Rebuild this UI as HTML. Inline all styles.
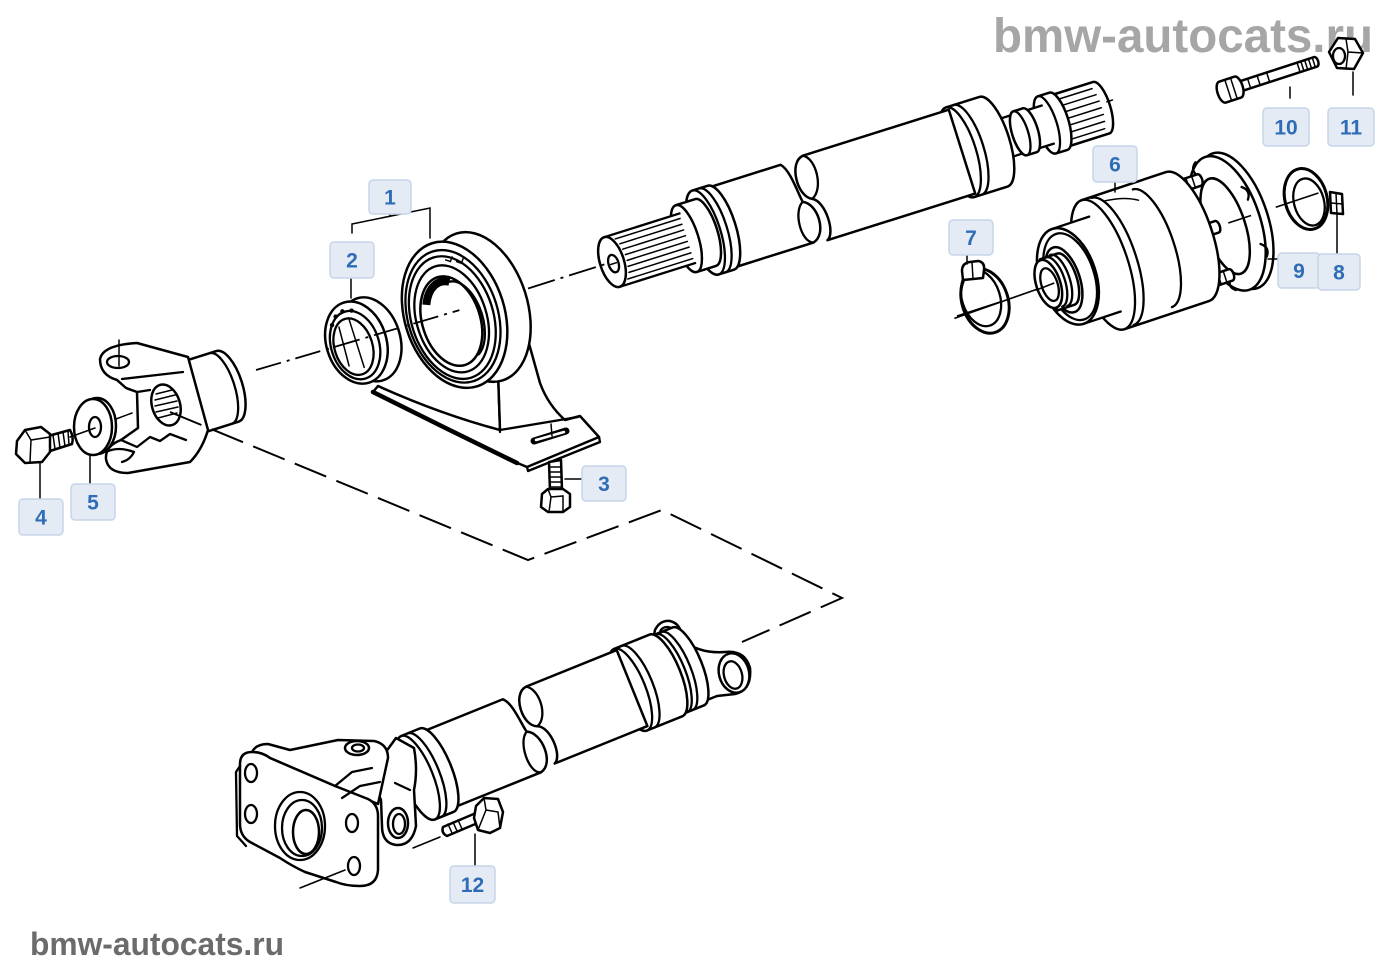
<!DOCTYPE html>
<html><head><meta charset="utf-8">
<style>
html,body{margin:0;padding:0;background:#fff;}
svg{display:block;}
.l{fill:#fff;stroke:#000;stroke-width:2.5;stroke-linejoin:round;stroke-linecap:round}
.n{fill:none;stroke:#000;stroke-width:2.3;stroke-linecap:round;stroke-linejoin:round}
.t{fill:none;stroke:#000;stroke-width:1.5;stroke-linecap:round}
.lbl rect{fill:#e4ebf4;stroke:#c6d5e8;stroke-width:1.5}
.lbl text{font-family:"Liberation Sans",Arial,sans-serif;font-weight:bold;font-size:21px;fill:#2e6db5;text-anchor:middle}
</style></head><body>
<svg width="1400" height="980" viewBox="0 0 1400 980" xmlns="http://www.w3.org/2000/svg">
<rect width="1400" height="980" fill="#fff"/>

<text x="993" y="52" font-family="Liberation Sans, Arial, sans-serif" font-weight="bold" font-size="48" fill="#a6a6a6" textLength="380" lengthAdjust="spacingAndGlyphs">bmw-autocats.ru</text>
<text x="30" y="955" font-family="Liberation Sans, Arial, sans-serif" font-weight="bold" font-size="32" fill="#6b6b6b" textLength="254" lengthAdjust="spacingAndGlyphs">bmw-autocats.ru</text>

<!-- ============ TOP SHAFT ============ -->
<g transform="translate(612,262) rotate(-17.5)">
  <path class="l" d="M466,-27 L513,-27 A9,27 0 0 1 513,27 L466,27 A9,27 0 0 1 466,-27Z"/>
  <path class="t" d="M470,-21H510M470,-14H512M470,-7H513M470,0H513M470,7H513M470,14H512M470,21H510"/>
  <path class="t" d="M520,-4 L526,-4"/>
  <path class="l" d="M456,-30 L468,-30 A10,30 0 0 1 468,30 L456,30 A10,30 0 0 1 456,-30Z"/>
  <path class="n" d="M456,-30 A10,30 0 0 1 456,30"/>
  <path d="M396,-20H457V20H396Z" fill="#fff"/>
  <path class="n" d="M396,-20H457M396,20H457"/>
  <path class="l" d="M428,-23H438A8,23 0 0 1 438,23H428A8,23 0 0 1 428,-23Z"/>
  <path class="n" d="M428,-23A8,23 0 0 1 428,23"/>
  <path class="l" d="M365,-47H400A16,47 0 0 1 400,47H365A16,47 0 0 1 365,-47Z"/>
  <path class="n" d="M365,-47A16,47 0 0 1 365,47M373,-47A16,47 0 0 1 373,47"/>
  <!-- main tube right section -->
  <path class="l" d="M214,-44H367V44H212 C222,40 222,6 210,0 C196,-6 198,-42 214,-44Z"/>
  <path class="n" d="M214,-44 C226,-38 224,-6 210,0"/>
  <!-- left tube section -->
  <path class="l" d="M112,-42H190 C198,-34 198,-8 200,0 C214,6 214,38 198,42 H112Z"/>
  <path class="n" d="M200,0 C188,6 186,38 198,42"/>
  <!-- ring -->
  <path class="l" d="M98,-44H114A15,44 0 0 1 114,44H98A15,44 0 0 1 98,-44Z"/>
  <path class="n" d="M98,-44A15,44 0 0 1 98,44M105,-44A15,44 0 0 1 105,44"/>
  <!-- step -->
  <path class="l" d="M78,-35H98A12,35 0 0 1 98,35H78A12,35 0 0 1 78,-35Z"/>
  <path class="n" d="M78,-35A12,35 0 0 1 78,35"/>
  <!-- splines -->
  <path d="M0,-26H80V26H0Z" fill="#fff"/>
  <path class="n" d="M0,-26H79M0,26H79"/>
  <path class="t" d="M10,-21H78M13,-15H78M14,-9H78M15,-3H78M15,3H78M14,9H78M13,15H78M10,21H78"/>
  <path class="n" d="M78,-35A12,35 0 0 1 78,35"/>
  <ellipse class="l" cx="0" cy="0" rx="12" ry="26"/>
  <ellipse class="n" cx="1" cy="2" rx="5" ry="9"/>
  <path class="t" d="M-2,2H4"/>
  <!-- axis to bearing -->
  <path d="M-88,0 L-8,0" stroke="#000" stroke-width="1.8" stroke-dasharray="28 6 3 6" fill="none"/>
</g>

<!-- ============ PILLAR / FOOT (center bearing) ============ -->
<path class="l" d="M470,360 L528,340 L540,383 Q548,405 565,420 L580,416 L599,437 L527,467 L515,462 Q445,428 373,392 L378,386 Q440,414 500,430 L498,372 Z"/>
<path class="n" d="M498,372 L500,432 M500,430 L578,417 M599,437 L600,442 L528,471 L527,467"/>
<path d="M373,392 Q445,428 517,463" fill="none" stroke="#000" stroke-width="4.5" stroke-linecap="round"/>
<path d="M534,441 L566,431" stroke="#000" stroke-width="7" stroke-linecap="round" fill="none"/>
<path d="M536,440 L564,432" stroke="#fff" stroke-width="2.5" stroke-linecap="round" fill="none"/>
<path class="t" d="M551,424 L552,436"/>

<!-- ============ CENTER BEARING + BEARING 2 ============ -->
<g transform="translate(612,262) rotate(-17.5)">
  <ellipse class="l" cx="-140" cy="3" rx="48" ry="77"/>
  <ellipse class="l" cx="-166" cy="3" rx="50" ry="75"/>
  <ellipse class="n" cx="-168" cy="4" rx="45" ry="68"/>
  <ellipse class="n" cx="-169" cy="5" rx="41" ry="63"/>
  <ellipse class="n" cx="-170" cy="6" rx="35" ry="55"/>
  <ellipse class="l" cx="-171" cy="8" rx="29" ry="46"/>
  <path class="n" d="M-163,-30 A22,40 0 0 1 -155,48"/>
  <path d="M-190,-15 A25,42 0 0 1 -161,-30" stroke="#000" stroke-width="8" fill="none"/>
  <path class="t" d="M-158,-52 l4,3 l3,-4 M-148,-47 l4,3 l3,-4"/>
  <!-- bearing 2 -->
  <ellipse class="l" cx="-254" cy="1" rx="30" ry="43"/>
  <ellipse class="l" cx="-268" cy="0" rx="30" ry="42"/>
  <ellipse class="n" cx="-270" cy="2" rx="24" ry="35"/>
  <ellipse class="n" cx="-272" cy="3" rx="19" ry="29"/>
  <circle cx="-286" cy="-24" r="2.2"/><circle cx="-280" cy="-31" r="2.2"/><circle cx="-272" cy="-34" r="2.2"/><circle cx="-263" cy="-32" r="2.2"/>
  <path class="t" d="M-280,-20 L-282,20 M-268,-26 L-268,26"/>
  <!-- axis -->
  <path d="M-372,-4 L-160,0" stroke="#000" stroke-width="1.8" stroke-dasharray="26 6 3 6" fill="none"/>
</g>
<path class="t" d="M352,233 V224 L430,208 V238 M390,214 V216"/>

<!-- bolt 3 -->
<path class="l" d="M549,462 L561,460 L562,490 L550,492 Z"/>
<path class="t" d="M549,467H561M549,472H561M549,477H562M550,482H562M550,487H562"/>
<path class="l" d="M542,494 L548,489 L563,489 L570,494 L570,507 L563,512 L548,512 L541,507 Z"/>
<path class="t" d="M548,489 L551,497 L549,512 M551,497 L563,496 L563,512"/>
<path class="t" d="M565,479 L583,479"/>

<!-- ============ YOKE (upper-left) ============ -->
<g transform="translate(216,390) rotate(-17.5)">
  <path class="l" d="M-30,-37 H12 A15,37 0 0 1 12,37 H-30 Z"/>
  <path class="n" d="M5,-37 A14,37 0 0 1 5,37"/>
</g>
<path class="l" d="M188,357 L137,343 Q103,345 100,359 Q100,375 117,380 L126,388 L137,392 L138,428 L121,440 Q105,446 106,459 Q108,473 128,473 L190,462 Q202,450 208,430 Z"/>
<path class="n" d="M122,379 L183,372"/>
<ellipse class="n" cx="118" cy="362" rx="11" ry="6"/>
<path class="t" d="M119,340 V366"/>
<path class="n" d="M121,440 L137,447 L150,437 L160,441 L170,434 L186,440"/>
<path class="n" d="M106,452 Q118,446 134,452 Q130,460 122,462"/>
<ellipse class="l" cx="166" cy="405" rx="14" ry="21" transform="rotate(-17 166 405)"/>
<path class="t" d="M156,394 L172,390 M155,400 L175,395 M155,406 L177,401 M156,412 L178,407 M158,418 L177,413"/>
<path class="n" d="M137,392 L150,390"/>

<!-- dashed connector -->
<path d="M170,412 L528,560 L662,510 L842,598 L742,642" fill="none" stroke="#000" stroke-width="2" stroke-dasharray="34 11"/>

<!-- bolt 4 -->
<path class="l" d="M48,436 L70,430 Q74,437 72,444 L50,451 Z"/>
<path class="t" d="M53,435 L55,449 M58,433 L60,448 M63,432 L65,446 M68,431 L69,445"/>
<path class="l" d="M17,441 L25,430 L41,427 L50,434 L50,452 L42,462 L25,463 L16,454 Z"/>
<path class="t" d="M25,430 L31,440 L50,437 M31,440 L30,462"/>
<path class="t" d="M40,463 V499"/>
<!-- washer 5 -->
<ellipse class="l" cx="97" cy="426" rx="19" ry="28"/>
<ellipse class="l" cx="93" cy="427" rx="19" ry="28"/>
<ellipse class="n" cx="95" cy="427" rx="6" ry="10"/>
<path class="t" d="M70,437 L95,428 M116,419 L132,413"/>
<path class="t" d="M90,455 V484"/>

<!-- ============ LOWER SHAFT ============ -->
<path class="l" d="M650,655 L655,630 Q660,620 670,621 Q682,624 682,640 Q700,654 725,652 Q745,650 750,668 Q752,690 735,694 L717,696 L662,718 Z"/>
<ellipse class="n" cx="667" cy="633" rx="7" ry="6"/>
<ellipse class="l" cx="734" cy="673" rx="15" ry="20" transform="rotate(-15 734 673)"/>
<ellipse class="n" cx="733" cy="675" rx="9" ry="14" transform="rotate(-15 733 675)"/>

<g transform="translate(457,762) rotate(-22)">
  <path class="l" d="M232,-44 H250 A14,42 0 0 1 250,40 H232 A14,42 0 0 1 232,-44Z"/>
  <path class="n" d="M232,-44 A14,42 0 0 1 232,40 M238,-44 A14,42 0 0 1 238,40"/>
  <path class="l" d="M188,-46 H226 A15,44 0 0 1 226,42 H188 A15,44 0 0 1 188,-46Z"/>
  <path class="n" d="M188,-46 A15,44 0 0 1 188,42 M196,-46 A15,44 0 0 1 196,42"/>
  <path class="l" d="M92,-44 H190 V38 H90 C100,34 100,2 88,-3 C74,-8 76,-42 92,-44Z"/>
  <path class="n" d="M92,-44 C104,-38 102,-8 88,-3"/>
  <path class="l" d="M-22,-41 H66 C74,-34 74,-8 76,-2 C90,4 90,38 74,41 H-22Z"/>
  <path class="n" d="M76,-2 C64,4 62,38 74,41"/>
  <path class="l" d="M-42,-45 H-22 A15,45 0 0 1 -22,45 H-42 A15,45 0 0 1 -42,-45Z"/>
  <path class="n" d="M-42,-45 A15,45 0 0 1 -42,45 M-35,-45 A15,45 0 0 1 -35,45"/>
</g>

<!-- bolt 12 -->
<path class="l" d="M443,827 L476,813 L480,822 L447,836 Q441,833 443,827Z"/>
<path class="t" d="M448,824 L452,833 M453,822 L457,831 M458,820 L462,829"/>
<path class="l" d="M476,806 L484,798 L498,799 L503,812 L500,828 L490,833 L478,830 L474,818 Z"/>
<path class="t" d="M486,810 L478,830 M486,810 L498,812 L500,828 M484,798 L486,810"/>
<path class="t" d="M413,848 L440,837"/>
<path class="t" d="M475,834 V866"/>

<!-- tube yoke arm -->
<path class="l" d="M396,738 L414,748 Q418,770 414,790 L416,826 Q412,846 396,845 Q382,843 382,826 L381,800 L373,782 L380,760 Z"/>
<ellipse class="l" cx="398" cy="823" rx="10" ry="15"/>
<ellipse class="n" cx="399" cy="824" rx="6" ry="10"/>
<path class="n" d="M395,783 L410,790"/>

<!-- flange -->
<path class="l" d="M252,752 Q256,744 268,744 L290,750 L338,740 L374,741 Q388,744 388,758 L378,804 L335,786 L270,758 Q262,752 252,752 Z"/>
<path class="l" d="M240,764 Q240,752 252,752 Q262,752 270,758 L335,786 L368,799 Q378,804 378,816 L378,870 Q377,886 360,886 Q346,886 336,882 L305,872 Q292,866 280,858 L250,842 Q240,836 240,824 Z"/>
<path class="n" d="M240,766 L236,772 L237,836 L246,846"/>
<ellipse class="n" cx="251" cy="773" rx="6" ry="9"/>
<ellipse class="n" cx="251" cy="814" rx="6" ry="9"/>
<ellipse class="n" cx="352" cy="823" rx="6" ry="9"/>
<ellipse class="n" cx="354" cy="866" rx="6" ry="9"/>
<ellipse class="n" cx="300" cy="826" rx="25" ry="34"/>
<ellipse class="n" cx="302" cy="828" rx="20" ry="28"/>
<ellipse class="l" cx="306" cy="832" rx="13" ry="22"/>
<ellipse class="l" cx="357" cy="748" rx="12" ry="7"/>
<ellipse class="n" cx="358" cy="748" rx="6" ry="3.5"/>
<path class="n" d="M335,786 L352,772 L372,768 M342,798 L360,786 L380,782"/>
<path class="t" d="M300,888 L345,870"/>

<!-- ============ CV JOINT ============ -->
<ellipse cx="1306" cy="199" rx="21" ry="31" transform="rotate(-15 1306 199)" fill="#fff" stroke="#000" stroke-width="3"/>
<ellipse class="n" cx="1309" cy="202" rx="15" ry="24" transform="rotate(-15 1309 202)"/>
<path class="l" d="M1330,192 L1342,194 L1343,214 L1331,213 Z"/>
<path class="t" d="M1331,203 L1343,204 M1336,193 L1337,214"/>
<path class="t" d="M1337,214 V253"/>

<g transform="translate(1048,283) rotate(-18.4)">
  <path d="M-100,4 L12,2" stroke="#000" stroke-width="1.6" fill="none"/>
  <ellipse class="l" cx="197" cy="0" rx="33" ry="71"/>
  <ellipse class="l" cx="189" cy="0" rx="33" ry="70"/>
  <ellipse class="l" cx="186" cy="2" rx="20" ry="50"/>
  <path class="n" d="M178,-68 Q170,-62 176,-54 M176,52 Q168,60 176,66 M214,-30 Q222,-24 216,-16 M214,30 Q222,36 216,44"/>
  <path d="M190,0 L214,0 M240,0 L285,0" stroke="#000" stroke-width="1.6" fill="none"/>
  <path class="l" d="M146,-56 H176 A3,6 0 0 1 176,-44 H146 Z"/>
  <path class="t" d="M152,-56V-44M158,-56V-44M164,-56V-44M170,-56V-44"/>
  <path class="l" d="M146,-6 H178 A3,6 0 0 1 178,6 H146 Z"/>
  <path class="t" d="M152,-6V6M158,-6V6M164,-6V6M170,-6V6"/>
  <path class="l" d="M146,44 H176 A3,6 0 0 1 176,56 H146 Z"/>
  <path class="t" d="M152,44V56M158,44V56M164,44V56M170,44V56"/>
  <path class="l" d="M58,-68 H147 A25,68 0 0 1 147,68 H58 A25,68 0 0 1 58,-68Z"/>
  <path class="n" d="M58,-68 A25,68 0 0 1 58,68 M68,-67 A24,67 0 0 1 68,67 M110,-62 A22,62 0 0 1 110,62"/>
  <path class="t" d="M80,-60 Q100,-58 112,-50"/>
  <path d="M21,-50 H62 V50 H21Z" fill="#fff"/>
  <path class="n" d="M21,-50 H60 M21,50 H60"/>
  <ellipse class="l" cx="21" cy="0" rx="28" ry="50"/>
  <ellipse class="n" cx="23" cy="1" rx="24" ry="45"/>
  <ellipse class="l" cx="16" cy="2" rx="16" ry="34"/>
  <path class="l" d="M0,-25 H18 A11,27 0 0 1 18,29 H0 Z"/>
  <path class="n" d="M6,-25 A11,26 0 0 1 6,27 M11,-26 A11,27 0 0 1 11,28"/>
  <ellipse class="l" cx="0" cy="1" rx="12" ry="25"/>
  <ellipse class="n" cx="1" cy="2" rx="8" ry="17"/>
  <path d="M-14,3 L6,2" stroke="#000" stroke-width="1.6"/>
</g>
<path class="t" d="M1115,182 V192 M1268,259 H1280"/>

<!-- clamp 7 -->
<ellipse cx="985" cy="301" rx="23" ry="33" transform="rotate(-18 985 301)" fill="none" stroke="#000" stroke-width="3"/>
<ellipse class="n" cx="981" cy="298" rx="19" ry="29" transform="rotate(-18 981 298)"/>
<path class="l" d="M962,271 Q962,263 970,262 L978,261 Q985,262 984,270 L983,278 L963,280 Z"/>
<path class="t" d="M972,262 L973,279"/>
<path d="M957,316 L1000,302" stroke="#000" stroke-width="1.6"/>
<path class="t" d="M967,255 V264"/>

<!-- bolt 10 -->
<g transform="translate(1232,89) rotate(-18)">
  <path class="l" d="M8,-5 H88 A2.5,5 0 0 1 88,5 H8Z"/>
  <path class="t" d="M18,-5V5M28,-5V5M38,-5V5M70,-5V5M74,-5V5M78,-5V5M82,-5V5M86,-5V5"/>
  <path class="l" d="M-10,-11 H6 A5,11 0 0 1 6,11 H-10 A5,11 0 0 1 -10,-11Z"/>
  <path class="t" d="M-4,-11 V11 M2,-11 V11"/>
</g>
<path class="t" d="M1290,87 V98"/>

<!-- nut 11 -->
<path class="l" d="M1363,53 L1355,39 L1338,38 L1329,52 L1337,68 L1354,69 Z"/>
<ellipse class="n" cx="1339" cy="56" rx="6" ry="8"/>
<path class="t" d="M1346,39 L1348,52 L1363,53 M1348,52 L1346,69"/>
<path class="t" d="M1353,72 V95"/>

<path class="t" d="M351,278 V298"/>

<!-- ============ LABELS ============ -->
<g class="lbl">
  <rect x="369" y="180" width="42" height="34" rx="4"/><text x="390" y="204.5">1</text>
  <rect x="330" y="242" width="44" height="36" rx="4"/><text x="352" y="267.5">2</text>
  <rect x="582" y="466" width="44" height="35" rx="4"/><text x="604" y="491">3</text>
  <rect x="19" y="499" width="44" height="36" rx="4"/><text x="41" y="524.5">4</text>
  <rect x="71" y="484" width="44" height="36" rx="4"/><text x="93" y="509.5">5</text>
  <rect x="1093" y="146" width="44" height="36" rx="4"/><text x="1115" y="171.5">6</text>
  <rect x="949" y="220" width="44" height="35" rx="4"/><text x="971" y="245">7</text>
  <rect x="1278" y="253" width="42" height="35" rx="4"/><text x="1299" y="278">9</text>
  <rect x="1318" y="254" width="42" height="36" rx="4"/><text x="1339" y="279.5">8</text>
  <rect x="1263" y="108" width="46" height="38" rx="4"/><text x="1286" y="134.5">10</text>
  <rect x="1328" y="108" width="46" height="38" rx="4"/><text x="1351" y="134.5">11</text>
  <rect x="450" y="866" width="45" height="37" rx="4"/><text x="472.5" y="892">12</text>
</g>
</svg>
</body></html>
